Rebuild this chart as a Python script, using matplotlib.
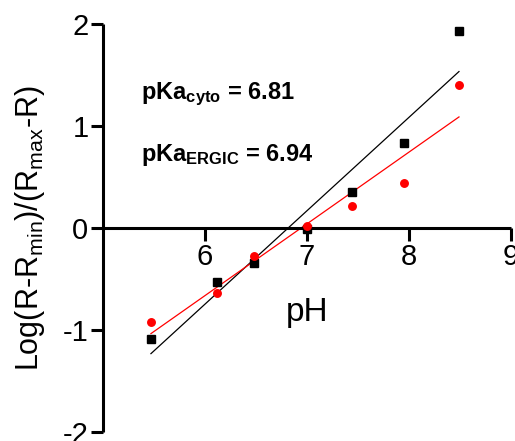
import matplotlib
matplotlib.use("Agg")
import matplotlib.pyplot as plt
import numpy as np

plt.rcParams['font.family'] = ['Liberation Sans', 'DejaVu Sans']
plt.rcParams['mathtext.fontset'] = 'custom'
plt.rcParams['mathtext.rm'] = 'Liberation Sans'
plt.rcParams['mathtext.bf'] = 'Liberation Sans:bold'
plt.rcParams['mathtext.it'] = 'Liberation Sans:italic'
plt.rcParams['axes.unicode_minus'] = False

ph = [5.47, 6.12, 6.48, 7.00, 7.44, 7.95, 8.49]
cyto = [-1.09, -0.53, -0.34, -0.01, 0.35, 0.83, 1.93]
ergic = [-0.92, -0.64, -0.27, 0.02, 0.22, 0.44, 1.40]
xticks = [6, 7, 8, 9]
yticks = [-2, -1, 0, 1, 2]
label_cyto = r'pKa$_{\mathbf{cyto}}$ = 6.81'
label_ergic = r'pKa$_{\mathbf{ERGIC}}$ = 6.94'

fig = plt.figure(figsize=(5.15, 4.41), dpi=100)
ax = fig.add_axes([103/515, 9/441, 408/515, 408/441])

x = np.array(ph)
for yv, col in ((cyto, 'black'), (ergic, 'red')):
    k, b = np.polyfit(x, np.array(yv), 1)
    xs = np.array([x.min(), x.max()])
    ax.plot(xs, k * xs + b, color=col, lw=0.9, zorder=2)

ax.plot(ph, cyto, linestyle='none', marker='s', ms=5.4, color='black', zorder=3)
ax.plot(ph, ergic, linestyle='none', marker='o', ms=5.4, color='red', mec='red', zorder=3)

ax.set_xlim(5, 9)
ax.set_ylim(-2, 2)
ax.set_xticks(xticks)
ax.set_yticks(yticks)
ax.spines['top'].set_visible(False)
ax.spines['right'].set_visible(False)
ax.spines['bottom'].set_position(('data', 0))
for s in ('left', 'bottom'):
    ax.spines[s].set_linewidth(2.2)
    ax.spines[s].set_capstyle('butt')
ax.tick_params(axis='both', direction='out', length=9, width=2.2, labelsize=21)
ax.tick_params(axis='x', pad=2)
ax.tick_params(axis='y', pad=1.5)

ax.set_xlabel('pH', fontsize=24)
ax.xaxis.label.set_va('baseline')
ax.xaxis.set_label_coords(0.5, (432 - 320.7) / 408)

ax.set_ylabel(r'Log(R-R$_{\mathrm{min}}$)/(R$_{\mathrm{max}}$-R)', fontsize=22)
ax.yaxis.set_label_coords((47 - 103) / 408, 0.5)

ax.text(5.37, 1.26, label_cyto, fontsize=17, fontweight='bold', va='baseline', ha='left')
ax.text(5.37, 0.66, label_ergic, fontsize=17, fontweight='bold', va='baseline', ha='left')

fig.savefig('out.png', dpi=100)
